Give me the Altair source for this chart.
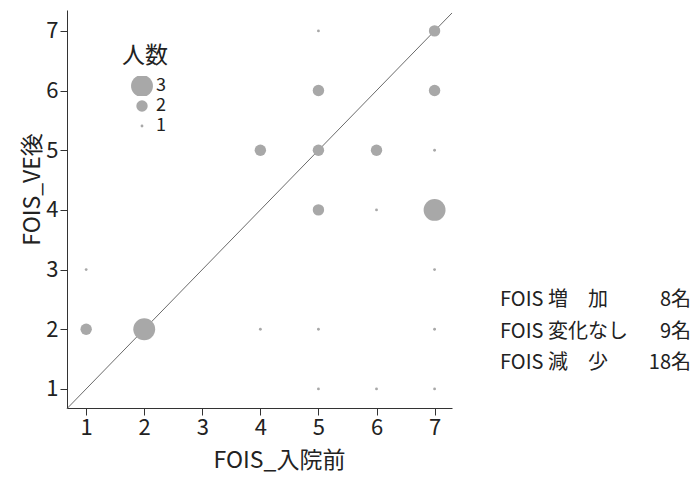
import altair as alt
import pandas as pd

# data
pre = [7, 5, 5, 7, 4, 5, 6, 7, 5, 6, 7, 1, 7, 1, 2, 4, 5, 7, 5, 6, 7]
post = [7, 7, 6, 6, 5, 5, 5, 5, 4, 4, 4, 3, 3, 2, 2, 2, 2, 2, 1, 1, 1]
count = [2, 1, 2, 2, 2, 2, 2, 1, 2, 1, 3, 1, 1, 2, 3, 1, 1, 1, 1, 1, 1]

diag = [0.67, 7.3]

summary_left = ["FOIS 増　加", "FOIS 変化なし", "FOIS 減　少"]
summary_right = ["8名", "9名", "18名"]

FONT = "Noto Sans CJK JP"
W, H = 385, 398

df = pd.DataFrame({"pre": pre, "post": post, "n": count})
df_line = pd.DataFrame({"x": diag, "y": diag})
df_sum = pd.DataFrame({"left": summary_left, "right": summary_right, "row": [0, 1, 2]})

xscale = alt.Scale(domain=[0.67, 7.3], nice=False, zero=False)
yscale = alt.Scale(domain=[0.68, 7.35], nice=False, zero=False)

points = alt.Chart(df).mark_circle(color="#a8a8a8", opacity=1).encode(
    x=alt.X("pre:Q", scale=xscale, title="FOIS_入院前",
            axis=alt.Axis(values=[1, 2, 3, 4, 5, 6, 7], format="d",
                          titleX=212, titleY=52, titleBaseline="middle")),
    y=alt.Y("post:Q", scale=yscale, title="FOIS_VE後",
            axis=alt.Axis(values=[1, 2, 3, 4, 5, 6, 7], format="d",
                          titleX=-35, titleY=179, titleBaseline="middle",
                          titleAlign="center")),
    size=alt.Size("n:Q",
                  scale=alt.Scale(type="linear", domain=[1, 2, 3], range=[8, 130, 480]),
                  legend=alt.Legend(title="人数", orient="none", legendX=55, legendY=35,
                                    values=[3, 2, 1], format="d",
                                    titleFontSize=23, labelFontSize=18,
                                    titleFont=FONT, labelFont=FONT,
                                    titleFontWeight="normal", titleColor="#222",
                                    labelColor="#222", symbolFillColor="#a8a8a8",
                                    symbolStrokeWidth=0, symbolOffset=9,
                                    clipHeight=20, rowPadding=0, labelOffset=3,
                                    titlePadding=8)),
)

line = alt.Chart(df_line).mark_line(color="#444", strokeWidth=0.8).encode(
    x=alt.X("x:Q", scale=xscale), y=alt.Y("y:Q", scale=yscale)
)

layers = [line, points]
for i in range(3):
    base = alt.Chart(df_sum).transform_filter(alt.datum.row == i)
    layers.append(base.mark_text(
        align="left", baseline="middle", font=FONT, fontSize=20, color="#222"
    ).encode(x=alt.value(433), y=alt.value(290 + 31.5 * i), text="left:N"))
    layers.append(base.mark_text(
        align="right", baseline="middle", font=FONT, fontSize=20, color="#222"
    ).encode(x=alt.value(624), y=alt.value(290 + 31.5 * i), text="right:N"))

chart = alt.layer(*layers).properties(
    width=W, height=H,
    autosize=alt.AutoSizeParams(type="none"),
    padding={"left": 59, "top": 2, "right": 240, "bottom": 68},
).configure_view(stroke=None).configure_axis(
    grid=False, domainColor="#333", tickColor="#333", tickSize=7,
    labelFont=FONT, titleFont=FONT, labelFontSize=22, titleFontSize=23,
    labelColor="#222", titleColor="#222", titleFontWeight="normal",
    labelPadding=2,
)

chart.save("out.html", embed_options={"renderer": "svg", "actions": False})
